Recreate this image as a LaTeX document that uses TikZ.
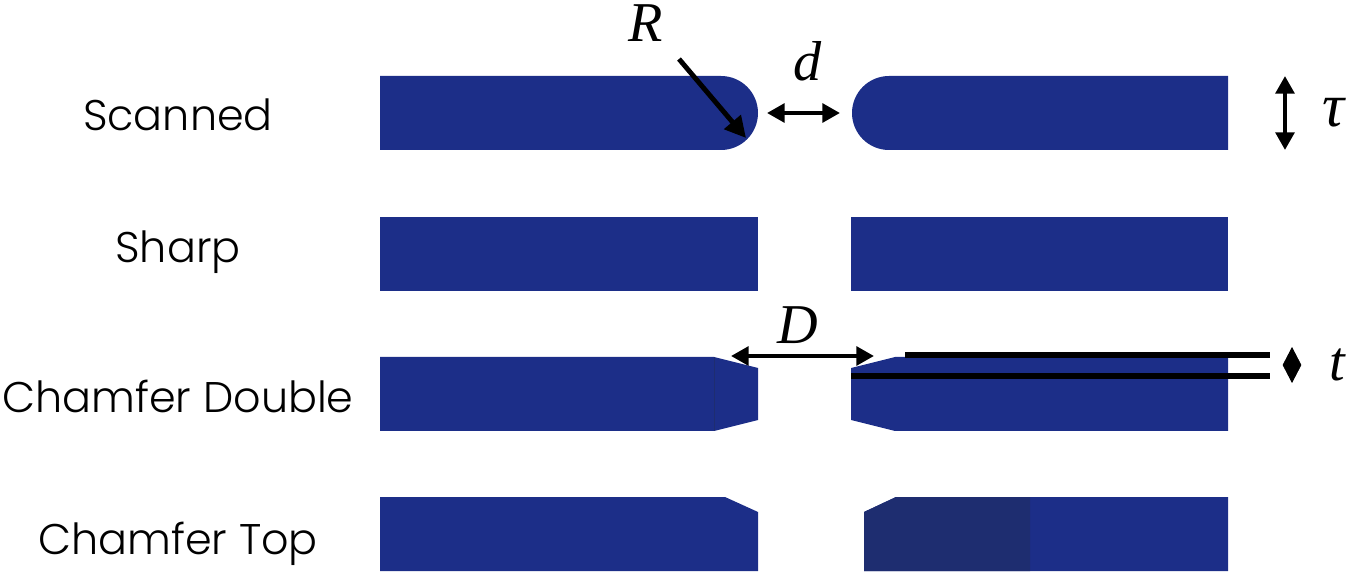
\documentclass[tikz,border=0pt]{standalone}
\usepackage{amsmath,amssymb,bm}
\usepackage{fontspec}
\setmainfont{Poppins Light}
\newfontfamily\symfont{Liberation Serif}
\usetikzlibrary{arrows.meta,positioning,calc}
\definecolor{plateblue}{RGB}{28,46,136}
\definecolor{platedark}{RGB}{30,45,112}
\tikzset{
    plate/.style={fill=plateblue,draw=none},
    rowlabel/.style={font=\fontsize{24.4}{28}\selectfont,inner sep=0pt},
    symlabel/.style={font=\fontsize{#1}{36}\selectfont\symfont\itshape,inner sep=0pt},
    dimarrow/.style={line width=2.4pt,{Triangle[length=10pt,width=10.5pt]}-{Triangle[length=10pt,width=10.5pt]}},
    leadarrow/.style={line width=2.8pt,-{Triangle[length=12pt,width=12pt]}},
    refline/.style={line width=3.2pt}
}

\begin{document}
\begin{tikzpicture}[x=0.02cm,y=-0.02cm]
    \useasboundingbox (0,0) rectangle (1350,574);

    % Scanned
    \node[rowlabel] (scanned) at (178,115) {Scanned};
    \fill[plate] (380,76) -- (721,76) arc[start angle=-90,end angle=90,radius=37] -- (380,150) -- cycle;
    \fill[plate] (1228,76) -- (889,76) arc[start angle=-90,end angle=-270,radius=37] -- (1228,150) -- cycle;

    % Sharp
    \node[rowlabel] (sharp) at (178,252) {Sharp};
    \fill[plate] (380,217) rectangle (758,291);
    \fill[plate] (851,217) rectangle (1228,291);

    % Chamfer Double
    \node[rowlabel] (chamferdouble) at (178,396) {Chamfer Double};
    \fill[plate] (380,357) -- (714,357) -- (758,368) -- (758,420) -- (714,431) -- (380,431) -- cycle;
    \fill[plate] (1228,357) -- (895,357) -- (851,368) -- (851,420) -- (895,431) -- (1228,431) -- cycle;
    \draw[platedark,line width=0.3pt] (714,357) -- (714,431);

    % Chamfer Top
    \node[rowlabel] (chamfertop) at (178,544) {Chamfer Top};
    \fill[plate] (380,497) -- (725,497) -- (758,512) -- (758,571) -- (380,571) -- cycle;
    \fill[plate] (1228,497) -- (896,497) -- (864,512) -- (864,571) -- (1228,571) -- cycle;
    \fill[platedark] (1030,497) -- (896,497) -- (864,512) -- (864,571) -- (1030,571) -- cycle;

    % Symbols
    \node[symlabel=32] (labelR) at (646,23) {R};
    \node[symlabel=32] (labeld) at (808,61) {d};
    \node[symlabel=35] (labeltau) at (1333,113) {τ};
    \node[symlabel=32] (labelD) at (798,325) {D};
    \node[symlabel=32] (labelt) at (1337,365) {t};

    % Arrows
    \coordinate (Rstart) at (679,59);
    \coordinate (Rend) at (746,138);
    \coordinate (dleft) at (767,113);
    \coordinate (dright) at (840,113);
    \coordinate (tautop) at (1285,76);
    \coordinate (taubot) at (1285,150);
    \coordinate (Dleft) at (731,356);
    \coordinate (Dright) at (874,356);
    \coordinate (ttop) at (1292,347);
    \coordinate (tbot) at (1292,383);
    \draw[leadarrow] (Rstart) -- (Rend);
    \draw[dimarrow] (dleft) -- (dright);
    \draw[dimarrow] (tautop) -- (taubot);
    \draw[dimarrow] (Dleft) -- (Dright);
    \draw[{Triangle[length=10.2pt,width=10.5pt]}-{Triangle[length=10.2pt,width=10.5pt]},line width=0.4pt] (ttop) -- (tbot);

    % Thickness lines
    \coordinate (upperstart) at (905,355);
    \coordinate (upperend) at (1270,355);
    \coordinate (lowerstart) at (851,376);
    \coordinate (lowerend) at (1270,376);
    \draw[refline] (upperstart) -- (upperend);
    \draw[refline] (lowerstart) -- (lowerend);
\end{tikzpicture}
\end{document}
